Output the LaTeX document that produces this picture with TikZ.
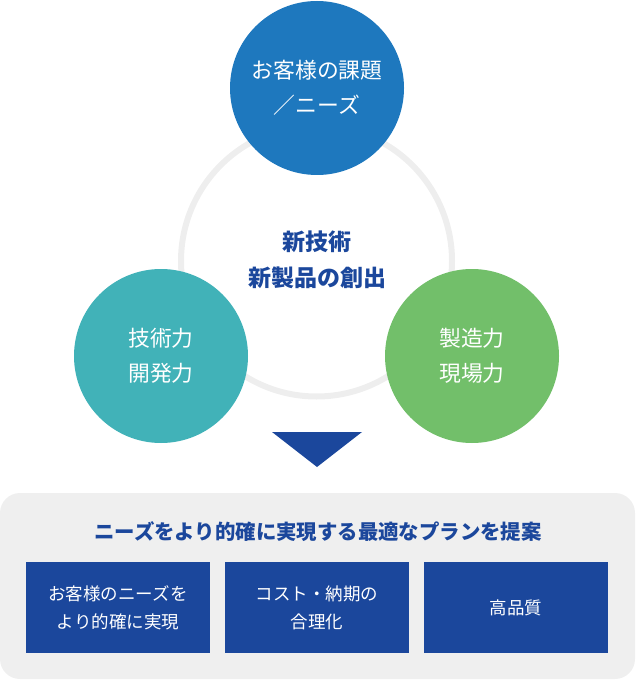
\documentclass[tikz,border=0pt]{standalone}
\usepackage{fontspec}
\setmainfont{Noto Sans CJK JP}
\definecolor{cblue}{HTML}{1E78BE}
\definecolor{cteal}{HTML}{41B2B8}
\definecolor{cgreen}{HTML}{72BF6A}
\definecolor{cnavy}{HTML}{1B479C}
\definecolor{cring}{HTML}{EEEEEE}
\definecolor{cpanel}{HTML}{EFEFEF}
\tikzset{
  bigcirc/.style={circle, minimum size=174pt, inner sep=0pt, text=white, align=center, font=\fontsize{21.8}{35}\selectfont},
  planbox/.style={rectangle, minimum width=184pt, minimum height=91pt, inner sep=0pt, fill=cnavy, text=white, align=center, font=\fontsize{17.5}{28}\selectfont},
}
\begin{document}
\begin{tikzpicture}[x=1pt,y=-1pt]
\useasboundingbox (0,0) rectangle (635,700);
% ring
\draw[cring, line width=6pt] (316.5,261) circle[radius=135.5];
% circles
\node[bigcirc, fill=cblue] (needs) at (317,88) {お客様の課題\\／ニーズ};
\node[bigcirc, fill=cteal] (tech) at (161,356) {技術力\\開発力};
\node[bigcirc, fill=cgreen] (mfg) at (472,356) {製造力\\現場力};
% center text
\node[text=cnavy, align=center, font=\fontsize{23}{36}\selectfont\bfseries] (core) at (317,260) {新技術\\新製品の創出};
% triangle
\coordinate (tl) at (272,432);
\coordinate (tr) at (362,432);
\coordinate (tb) at (317,467);
\fill[cnavy] (tl) -- (tr) -- (tb) -- cycle;
% panel
\fill[cpanel, rounded corners=20pt] (0,493) rectangle (635,679);
\node[text=cnavy, font=\fontsize{20.4}{24}\selectfont\bfseries] (title) at (318,532) {ニーズをより的確に実現する最適なプランを提案};
\node[planbox] (b1) at (118,607.5) {お客様のニーズを\\より的確に実現};
\node[planbox] (b2) at (317,607.5) {コスト・納期の\\合理化};
\node[planbox] (b3) at (516,607.5) {高品質};
\end{tikzpicture}
\end{document}
